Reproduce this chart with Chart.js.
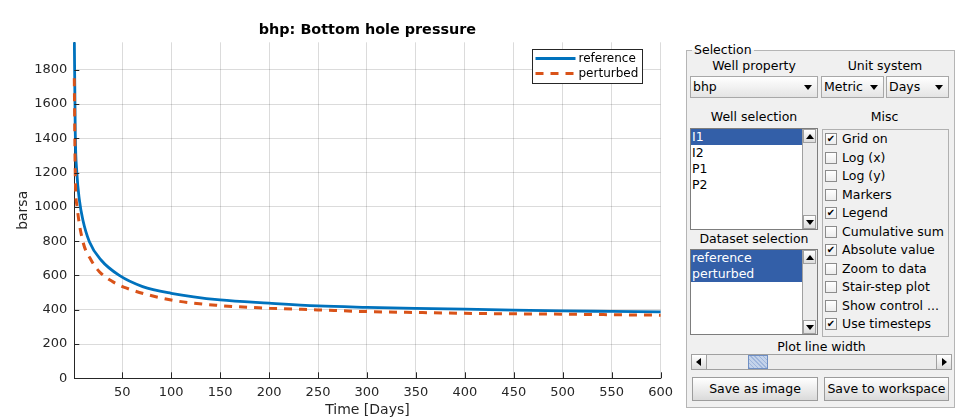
<!DOCTYPE html>
<html>
<head>
<meta charset="utf-8">
<script src="https://cdn.jsdelivr.net/npm/chart.js@4.4.1/dist/chart.umd.min.js"></script>
<style>
    body { margin: 0; background: #fff; font-family: "DejaVu Sans", sans-serif; font-size: 12.5px; color: #000; }
    #wrap { position: absolute; left: 0; top: 0; width: 680px; height: 420px; }
    .abs { position: absolute; box-sizing: border-box; }
    .lbl { position: absolute; height: 16px; line-height: 16px; text-align: center; white-space: nowrap; }
    .group { border: 1px solid #b5b5b5; background: #f0f0f0; }
    .drop { border: 1px solid #a8a8a8; background: linear-gradient(#ffffff, #e4e4e4); line-height: 20px; padding-left: 2px; }
    .arrow { position: absolute; width: 0; height: 0; border-left: 4px solid transparent; border-right: 4px solid transparent; border-top: 5px solid #000; }
    .uparrow { position: absolute; width: 0; height: 0; border-left: 4px solid transparent; border-right: 4px solid transparent; border-bottom: 5px solid #000; }
    .list { border: 1px solid #7d7d7d; background: #fff; overflow: hidden; }
    .row { height: 16px; line-height: 16px; padding-left: 1px; white-space: nowrap; }
    .sel { background: #335fa8; color: #fff; }
    .sbar { position: absolute; right: 0; top: 0; bottom: 0; width: 14px; background: #ececec; border-left: 1px solid #a0a0a0; }
    .sbtn { position: absolute; left: 0; width: 13px; height: 14px; background: linear-gradient(#ffffff, #dcdcdc); border: 1px solid #a0a0a0; box-sizing: border-box; }
    .cb { position: absolute; width: 12px; height: 12px; border: 1px solid #8c8c8c; background: linear-gradient(#ffffff, #ececec); box-sizing: border-box; font-size: 10px; line-height: 10px; text-align: center; }
    .btn { border: 1px solid #9c9c9c; background: linear-gradient(#ffffff, #dadada); text-align: center; line-height: 22px; }
</style>
</head>
<body>
<div id="wrap"><canvas id="chartBhp"></canvas></div>

<div class="abs group" style="left:686px; top:50px; width:269px; height:358px;"></div>
<div class="lbl" style="left:692px; top:42px; padding:0 2px; background:linear-gradient(#fff 50%, #f0f0f0 50%);">Selection</div>

<div class="lbl" style="left:690px; top:57.7px; width:128px;">Well property</div>
<div class="lbl" style="left:821px; top:57.7px; width:128px;">Unit system</div>

<div class="abs drop" style="left:690px; top:76px; width:128px; height:22px;">bhp<div class="arrow" style="right:5px; top:8px;"></div></div>
<div class="abs drop" style="left:821px; top:76px; width:63px; height:22px;">Metric<div class="arrow" style="right:5px; top:8px;"></div></div>
<div class="abs drop" style="left:886px; top:76px; width:63px; height:22px;">Days<div class="arrow" style="right:5px; top:8px;"></div></div>

<div class="lbl" style="left:690px; top:109.3px; width:128px;">Well selection</div>
<div class="lbl" style="left:821px; top:109.3px; width:127px;">Misc</div>

<div class="abs list" style="left:690px; top:128px; width:128px; height:102px;">
    <div style="position:absolute; left:0; top:0; right:15px;">
        <div class="row sel">I1</div>
        <div class="row">I2</div>
        <div class="row">P1</div>
        <div class="row">P2</div>
    </div>
    <div class="sbar">
        <div class="sbtn" style="top:0;"><div class="uparrow" style="left:2px; top:4px;"></div></div>
        <div class="sbtn" style="bottom:0;"><div class="arrow" style="left:2px; top:4px;"></div></div>
    </div>
</div>

<div class="abs" id="misc" style="left:822px; top:129px; width:127px; height:208px; border:1px solid #b0b0b0;"></div>

<div class="lbl" style="left:690px; top:231.3px; width:128px;">Dataset selection</div>
<div class="abs list" style="left:690px; top:249px; width:128px; height:86px;">
    <div style="position:absolute; left:0; top:0; right:15px;">
        <div class="row sel">reference</div>
        <div class="row sel">perturbed</div>
    </div>
    <div class="sbar">
        <div class="sbtn" style="top:0;"><div class="uparrow" style="left:2px; top:4px;"></div></div>
        <div class="sbtn" style="bottom:0;"><div class="arrow" style="left:2px; top:4px;"></div></div>
    </div>
</div>

<div class="lbl" style="left:690px; top:339.3px; width:263px;">Plot line width</div>
<div class="abs" style="left:691px; top:354px; width:261px; height:16px; background:#ececec; border:1px solid #a0a0a0;">
    <div class="abs" style="left:0; top:0; width:15px; height:14px; background:linear-gradient(#fff,#dcdcdc); border-right:1px solid #a0a0a0;">
        <div style="position:absolute; left:4px; top:3px; width:0; height:0; border-top:4px solid transparent; border-bottom:4px solid transparent; border-right:5px solid #000;"></div>
    </div>
    <div class="abs" style="right:0; top:0; width:15px; height:14px; background:linear-gradient(#fff,#dcdcdc); border-left:1px solid #a0a0a0;">
        <div style="position:absolute; left:5px; top:3px; width:0; height:0; border-top:4px solid transparent; border-bottom:4px solid transparent; border-left:5px solid #000;"></div>
    </div>
    <div class="abs" style="left:56px; top:0; width:20px; height:14px; border:1px solid #6f8fc4; background:#c4d3ea repeating-linear-gradient(45deg, #9fb6dc 0 1px, transparent 1px 3px);"></div>
</div>

<div class="abs btn" style="left:692px; top:377px; width:126px; height:24px;">Save as image</div>
<div class="abs btn" style="left:824px; top:377px; width:125px; height:24px;">Save to workspace</div>

<script>
    // bhp of well I1, reference vs perturbed run
    const refDays = [1, 2, 3.6, 6.2, 9.7, 16.4, 28.3, 47, 70.8, 100, 150, 200, 250, 300, 350, 400, 450, 500, 550, 600];
    const refBhp = [2000, 1430, 1200, 1040, 925, 797, 690, 600, 535, 496, 457, 438, 422, 414, 408, 403, 398, 393, 390, 387];
    const pertDays = [1, 2, 3.9, 9.7, 18.1, 26.6, 40.2, 53.8, 100, 150, 200, 250, 300, 350, 400, 450, 500, 550, 600];
    const pertBhp = [1750, 1180, 1000, 800, 690, 622, 564, 527, 457, 424, 409, 399, 389, 384, 379, 376, 374, 371, 368];

    const xTicks = [50, 100, 150, 200, 250, 300, 350, 400, 450, 500, 550, 600];
    const yTicks = [0, 200, 400, 600, 800, 1000, 1200, 1400, 1600, 1800];

    const font = '"DejaVu Sans", sans-serif';
    const axisColor = '#262626';
    const chartTitle = 'bhp: Bottom hole pressure';

    // misc checkboxes
    const miscItems = [
        ['Grid on', true], ['Log (x)', false], ['Log (y)', false], ['Markers', false],
        ['Legend', true], ['Cumulative sum', false], ['Absolute value', true],
        ['Zoom to data', false], ['Stair-step plot', false], ['Show control ...', false],
        ['Use timesteps', true]
    ];
    miscItems.forEach(([text, checked], i) => {
        const cy = 139.3 + i * 18.5;
        const box = document.createElement('div');
        box.className = 'cb';
        box.style.left = '825px';
        box.style.top = (cy - 6) + 'px';
        if (checked) box.textContent = '\u2714';
        document.body.appendChild(box);
        const lab = document.createElement('div');
        lab.className = 'lbl';
        lab.style.left = '842px';
        lab.style.top = (cy - 8) + 'px';
        lab.style.textAlign = 'left';
        lab.textContent = text;
        document.body.appendChild(lab);
    });

    const toPoints = (xs, ys) => xs.map((x, i) => ({ x, y: ys[i] }));

    const matlabDecor = {
        id: 'matlabDecor',
        afterDraw(chart) {
            const { ctx, chartArea, scales } = chart;
            ctx.save();
            // title centred over the axes
            ctx.fillStyle = '#000';
            ctx.font = 'bold 14.4px ' + font;
            ctx.textAlign = 'center';
            ctx.textBaseline = 'alphabetic';
            ctx.fillText(chartTitle, (chartArea.left + chartArea.right) / 2, chartArea.top - 8);

            // inward tick marks
            ctx.strokeStyle = axisColor;
            ctx.lineWidth = 1;
            ctx.beginPath();
            xTicks.forEach(v => {
                const px = Math.round(scales.x.getPixelForValue(v)) + 0.5;
                ctx.moveTo(px, chartArea.bottom);
                ctx.lineTo(px, chartArea.bottom - 6);
            });
            yTicks.forEach(v => {
                const py = Math.round(scales.y.getPixelForValue(v)) + 0.5;
                ctx.moveTo(chartArea.left, py);
                ctx.lineTo(chartArea.left + 5, py);
            });
            ctx.stroke();

            // legend box, top right
            const w = 110, h = 34;
            const x0 = Math.round(chartArea.right - 19 - w) + 0.5;
            const y0 = Math.round(chartArea.top + 7) + 0.5;
            ctx.textAlign = 'left';
            ctx.fillStyle = '#fff';
            ctx.fillRect(x0, y0, w, h);
            ctx.strokeStyle = axisColor;
            ctx.strokeRect(x0, y0, w, h);
            chart.data.datasets.forEach((ds, i) => {
                const ly = y0 + 9 + i * 15;
                ctx.beginPath();
                ctx.strokeStyle = ds.borderColor;
                ctx.lineWidth = ds.borderWidth;
                ctx.setLineDash(ds.borderDash || []);
                ctx.moveTo(x0 + 3, ly);
                ctx.lineTo(x0 + 43, ly);
                ctx.stroke();
                ctx.setLineDash([]);
                ctx.fillStyle = '#000';
                ctx.font = '12px ' + font;
                ctx.textBaseline = 'middle';
                ctx.fillText(ds.label, x0 + 46, ly);
            });
            ctx.restore();
        }
    };

    const ctx = document.getElementById('chartBhp').getContext('2d');
    new Chart(ctx, {
        type: 'line',
        data: {
            datasets: [{
                label: 'reference',
                data: toPoints(refDays, refBhp),
                borderColor: '#0072BD',
                borderWidth: 2.8,
                cubicInterpolationMode: 'monotone',
                order: 2,
                clip: { left: 4, top: 0, right: 2, bottom: 2 }
            }, {
                label: 'perturbed',
                data: toPoints(pertDays, pertBhp),
                borderColor: '#D95319',
                borderWidth: 3,
                borderDash: [8, 7],
                cubicInterpolationMode: 'monotone',
                order: 1,
                clip: { left: 4, top: 0, right: 2, bottom: 2 }
            }]
        },
        options: {
            responsive: true,
            maintainAspectRatio: false,
            animation: false,
            layout: { padding: { left: 0, right: 17.7, top: 42.3, bottom: 0 } },
            elements: { point: { radius: 0 } },
            plugins: {
                legend: { display: false },
                tooltip: { enabled: false },
                title: { display: false }
            },
            scales: {
                x: {
                    type: 'linear',
                    min: 1,
                    max: 600,
                    afterBuildTicks: s => { s.ticks = xTicks.map(v => ({ value: v })); },
                    afterFit: s => { s.height = 41.7; },
                    grid: { color: 'rgba(0,0,0,0.14)', drawTicks: false },
                    border: { color: axisColor },
                    ticks: { padding: 7, color: axisColor, font: { family: font, size: 13 }, maxRotation: 0, autoSkip: false, callback: v => String(v) },
                    title: { display: true, text: 'Time [Days]', color: axisColor, font: { family: font, size: 14 }, padding: { top: 0, bottom: 1.6 } }
                },
                y: {
                    min: 0,
                    max: 1960,
                    afterBuildTicks: s => { s.ticks = yTicks.map(v => ({ value: v })); },
                    afterFit: s => { s.width = 74.3; },
                    grid: { color: 'rgba(0,0,0,0.14)', drawTicks: false },
                    border: { color: axisColor },
                    ticks: { padding: 7, color: axisColor, font: { family: font, size: 13 }, autoSkip: false, callback: v => String(v) },
                    title: { display: true, text: 'barsa', color: axisColor, font: { family: font, size: 14 }, padding: { top: 15, bottom: 0 } }
                }
            }
        },
        plugins: [matlabDecor]
    });
</script>
</body>
</html>
